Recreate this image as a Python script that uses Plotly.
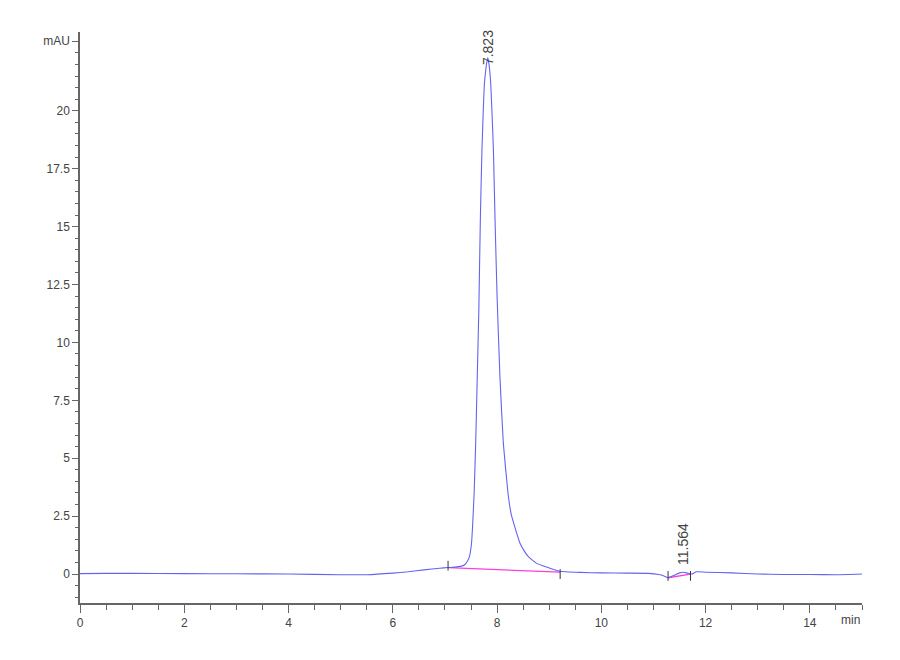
import plotly.graph_objects as go

# Chromatogram trace (time in min, signal in mAU)
time_min = [0, 0.5, 1, 2, 3, 4, 5, 5.5, 6, 6.3, 6.6, 6.9, 7.06, 7.2, 7.3, 7.38, 7.43,
            7.47, 7.51, 7.53, 7.56, 7.59, 7.62, 7.65, 7.68, 7.71, 7.735, 7.755, 7.78,
            7.80, 7.823, 7.845, 7.865, 7.88, 7.905, 7.93, 7.96, 8.0, 8.055, 8.12, 8.21,
            8.27, 8.34, 8.44, 8.52, 8.6, 8.76, 8.95, 9.2, 9.6, 10.0, 10.5, 10.9, 11.1,
            11.2, 11.28, 11.4, 11.5, 11.57, 11.65, 11.73, 11.83, 12.0, 12.5, 13.0,
            13.5, 14.0, 14.5, 15.0]
signal_mau = [0.02, 0.03, 0.03, 0.02, 0.01, 0.0, -0.03, -0.03, 0.04, 0.1, 0.18, 0.25,
              0.28, 0.3, 0.33, 0.4, 0.55, 0.75, 1.33, 2.04, 3.49, 5.65, 8.52, 11.4,
              15.4, 18.3, 20.0, 21.1, 21.7, 22.05, 22.3, 22.0, 21.6, 21.1, 19.8,
              18.3, 15.4, 12.0, 8.52, 5.65, 3.49, 2.6, 2.04, 1.33, 1.0, 0.75, 0.46,
              0.3, 0.12, 0.07, 0.05, 0.04, 0.03, -0.02, -0.08, -0.16, -0.05, 0.05,
              0.08, 0.04, 0.0, 0.1, 0.08, 0.05, 0.0, -0.02, -0.02, -0.03, 0.0]

# integration baselines
base1_t = [7.06, 9.21]
base1_v = [0.28, 0.08]
base2_t = [11.28, 11.71]
base2_v = [-0.16, 0.0]

# peak start/end event marks
event_t = [7.06, 9.21, 11.28, 11.71]
event_v = [0.36, 0.0, -0.08, -0.08]

peak_times = [7.823, 11.564]
peak_labels = ["7.823", "11.564"]
peak_label_y = [21.9, 0.3]

x_tick_vals = [0, 2, 4, 6, 8, 10, 12, 14]
x_tick_text = ["0", "2", "4", "6", "8", "10", "12", "14"]
y_tick_vals = [0, 2.5, 5, 7.5, 10, 12.5, 15, 17.5, 20, 23]
y_tick_text = ["0", "2.5", "5", "7.5", "10", "12.5", "15", "17.5", "20", "mAU"]

font_family = "Liberation Sans Narrow, Liberation Sans, Arial"

fig = go.Figure()

fig.add_trace(go.Scatter(x=base1_t, y=base1_v, mode="lines",
                         line=dict(color="#ff3fd8", width=1.3), hoverinfo="skip"))
fig.add_trace(go.Scatter(x=base2_t, y=base2_v, mode="lines",
                         line=dict(color="#ff3fd8", width=1.3), hoverinfo="skip"))
fig.add_trace(go.Scatter(x=time_min, y=signal_mau, mode="lines",
                         line=dict(color="#6464f0", width=1.1, shape="spline", smoothing=0.4)))
fig.add_trace(go.Scatter(x=event_t, y=event_v, mode="markers",
                         marker=dict(symbol="line-ns", size=7,
                                     line=dict(color="#333333", width=1)),
                         hoverinfo="skip"))

for t, lab, yy in zip(peak_times, peak_labels, peak_label_y):
    fig.add_annotation(x=t, y=yy, text=lab, textangle=-90, showarrow=False,
                       yanchor="bottom", xanchor="center",
                       font=dict(size=14, color="#444444", family=font_family))

fig.add_annotation(x=15, y=-1.25, xref="x", yref="y", text="min", showarrow=False,
                   xanchor="right", yanchor="top", yshift=-8,
                   font=dict(size=12, color="#444444", family=font_family))

fig.update_xaxes(
    range=[0, 15], showline=True, linecolor="#666666", linewidth=1.5,
    tickvals=x_tick_vals, ticktext=x_tick_text, ticks="outside", ticklen=8,
    tickcolor="#666666", tickwidth=1.2, showgrid=False, zeroline=False,
    minor=dict(dtick=0.5, ticks="outside", ticklen=5, tickcolor="#666666", showgrid=False),
    tickfont=dict(size=12, color="#444444", family=font_family),
)
fig.update_yaxes(
    range=[-1.25, 23.4], showline=True, linecolor="#666666", linewidth=1.5,
    tickvals=y_tick_vals, ticktext=y_tick_text, ticks="outside", ticklen=6,
    tickcolor="#666666", tickwidth=1.2, showgrid=False, zeroline=False,
    minor=dict(dtick=0.5, ticks="outside", ticklen=3, tickcolor="#666666", showgrid=False),
    tickfont=dict(size=12, color="#444444", family=font_family),
)

fig.update_layout(
    width=900, height=660,
    margin=dict(l=72, r=46, t=24, b=65),
    plot_bgcolor="white", paper_bgcolor="white",
    showlegend=False,
)

fig.write_html("out.html")
